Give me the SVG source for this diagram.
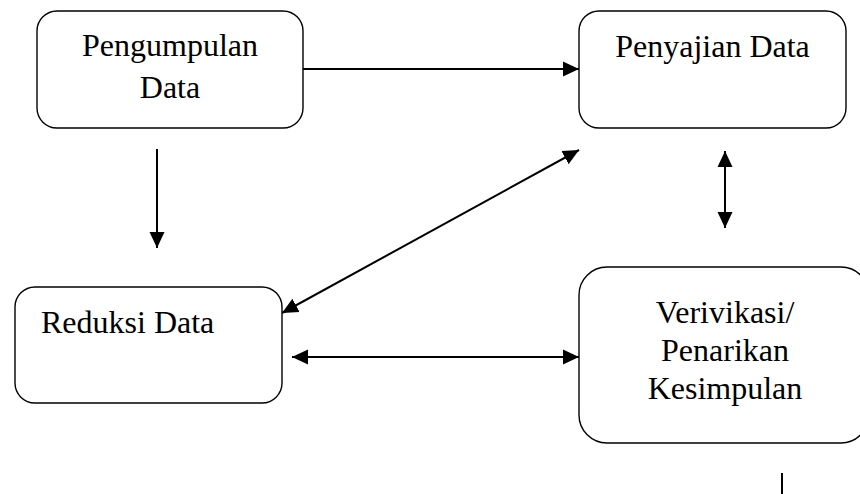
<svg xmlns="http://www.w3.org/2000/svg" width="860" height="494" viewBox="0 0 860 494">
<style>
.box{fill:#fff;stroke:#000;stroke-width:1.4}
text{font-family:"Liberation Serif","Times New Roman",serif;font-size:32px;fill:#000}
.c{text-anchor:middle}
.conn{stroke:#000;stroke-width:2;fill:none}
</style>
<defs>
<marker id="ah" markerUnits="userSpaceOnUse" markerWidth="17" markerHeight="16" refX="16" refY="7.5" orient="auto-start-reverse" viewBox="0 0 17 15">
<path d="M0,0 L16,7.5 L0,15 z" fill="#000"/>
</marker>
</defs>
<rect width="860" height="494" fill="#fff"/>
<g id="n-pengumpulan">
<rect class="box" x="37" y="11" width="266" height="117" rx="20"/>
<text class="c" x="170" y="56">Pengumpulan</text>
<text class="c" x="170" y="98">Data</text>
</g>
<g id="n-penyajian">
<rect class="box" x="579" y="11" width="267" height="117" rx="20"/>
<text class="c" x="712.5" y="57">Penyajian Data</text>
</g>
<g id="n-reduksi">
<rect class="box" x="15" y="287" width="267" height="116" rx="20"/>
<text x="41" y="333">Reduksi Data</text>
</g>
<g id="n-verivikasi">
<rect class="box" x="579" y="267" width="290" height="176" rx="28"/>
<text class="c" x="725" y="323">Verivikasi/</text>
<text class="c" x="725" y="361">Penarikan</text>
<text class="c" x="725" y="399">Kesimpulan</text>
</g>
<g id="connectors">
<line class="conn" x1="303" y1="69" x2="579" y2="69" marker-end="url(#ah)"/>
<line class="conn" x1="157" y1="149" x2="157" y2="248" marker-end="url(#ah)"/>
<line class="conn" x1="282" y1="313" x2="579" y2="150" marker-start="url(#ah)" marker-end="url(#ah)"/>
<line class="conn" x1="725" y1="151" x2="725" y2="228" marker-start="url(#ah)" marker-end="url(#ah)"/>
<line class="conn" x1="292" y1="357" x2="579" y2="357" marker-start="url(#ah)" marker-end="url(#ah)"/>
<line class="conn" x1="782" y1="473" x2="782" y2="494" stroke-width="1.5"/>
</g>
</svg>
